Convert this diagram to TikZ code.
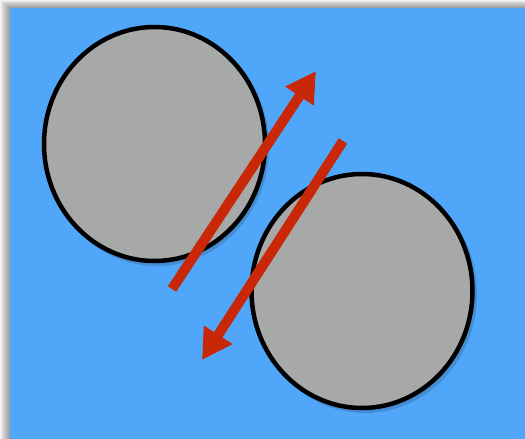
\documentclass[tikz,border=0pt]{standalone}
\usetikzlibrary{arrows.meta,shapes.geometric}
\definecolor{bgblue}{HTML}{50A6F8}
\definecolor{discgray}{HTML}{A6A9A7}
\definecolor{arrowred}{HTML}{C82808}
\tikzset{
  disc/.style={ellipse, draw=black, line width=4.5pt, fill=discgray, minimum width=221pt, minimum height=234pt, inner sep=0pt},
  discshadow/.style={ellipse, fill=black, fill opacity=0.15, minimum width=224pt, minimum height=238pt, inner sep=0pt},
  redarrow/.style={draw=arrowred, line width=10pt, -{Triangle[length=30pt,width=32pt]}}
}
\begin{document}
\begin{tikzpicture}[x=1pt,y=-1pt]
\useasboundingbox (0,0) rectangle (525,439);
\fill[white] (0,0) rectangle (525,439);
% soft shadow top-left
\foreach \i in {1,...,10}{
  \fill[black, opacity=0.045] (10-\i,8-\i*0.8) rectangle (525,439);
}
\fill[bgblue] (10,8) rectangle (525,439);
% disc shadows
\node[discshadow] (s1) at (157,147) {};
\node[discshadow] (s2) at (365,294) {};
\node[disc] (c1) at (154.5,144) {};
\node[disc] (c2) at (362,291) {};
\coordinate (a1s) at (172,289);
\coordinate (a1e) at (316,71);
\coordinate (a2s) at (343,141);
\coordinate (a2e) at (202,360);
\draw[redarrow] (a1s) -- (a1e);
\draw[redarrow] (a2s) -- (a2e);
\end{tikzpicture}
\end{document}
